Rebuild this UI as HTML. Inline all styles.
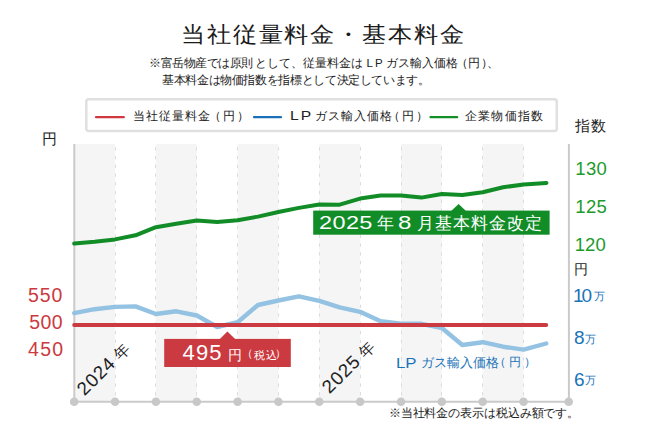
<!DOCTYPE html>
<html><head><meta charset="utf-8">
<style>
html,body{margin:0;padding:0;background:#fff;}
body{width:650px;height:436px;position:relative;overflow:hidden;font-family:"Liberation Sans",sans-serif;color:#222;}
.t{position:absolute;white-space:nowrap;line-height:1;}
svg{position:absolute;left:0;top:0;}
</style></head><body>
<svg width="650" height="436" viewBox="0 0 650 436">
  <!-- bands -->
  <g fill="#f5f5f5">
    <rect x="74.2" y="144" width="40.85" height="257.8"/>
    <rect x="155.9" y="144" width="40.85" height="257.8"/>
    <rect x="237.6" y="144" width="40.85" height="257.8"/>
    <rect x="319.3" y="144" width="40.85" height="257.8"/>
    <rect x="401" y="144" width="40.85" height="257.8"/>
    <rect x="482.7" y="144" width="40.85" height="257.8"/>
  </g>
  <g stroke="#dcdcdc" stroke-width="1" stroke-dasharray="3.3 5.45" stroke-dashoffset="-3.2">
    <line x1="115.5" y1="144" x2="115.5" y2="401"/>
    <line x1="155.5" y1="144" x2="155.5" y2="401"/>
    <line x1="196.5" y1="144" x2="196.5" y2="401"/>
    <line x1="237.5" y1="144" x2="237.5" y2="401"/>
    <line x1="278.5" y1="144" x2="278.5" y2="401"/>
    <line x1="319.5" y1="144" x2="319.5" y2="401"/>
    <line x1="360.5" y1="144" x2="360.5" y2="401"/>
    <line x1="401.5" y1="144" x2="401.5" y2="401"/>
    <line x1="441.5" y1="144" x2="441.5" y2="401"/>
    <line x1="482.5" y1="144" x2="482.5" y2="401"/>
    <line x1="523.5" y1="144" x2="523.5" y2="401"/>
  </g>
  <!-- axes -->
  <g stroke="#cacaca" stroke-width="2" fill="none">
    <line x1="74.3" y1="144" x2="74.3" y2="401.8"/>
    <line x1="568.9" y1="144" x2="568.9" y2="401.8"/>
    <line x1="74.2" y1="401.8" x2="568.7" y2="401.8"/>
  </g>
  <g fill="#c8c8c8">
    <circle cx="74.2" cy="401.8" r="4.3"/>
    <circle cx="115.05" cy="401.8" r="4.3"/>
    <circle cx="155.9" cy="401.8" r="4.3"/>
    <circle cx="196.75" cy="401.8" r="4.3"/>
    <circle cx="237.6" cy="401.8" r="4.3"/>
    <circle cx="278.45" cy="401.8" r="4.3"/>
    <circle cx="319.3" cy="401.8" r="4.3"/>
    <circle cx="360.15" cy="401.8" r="4.3"/>
    <circle cx="401" cy="401.8" r="4.3"/>
    <circle cx="441.85" cy="401.8" r="4.3"/>
    <circle cx="482.7" cy="401.8" r="4.3"/>
    <circle cx="523.55" cy="401.8" r="4.3"/>
    <circle cx="568.7" cy="401.8" r="4.3"/>
  </g>
  <!-- legend box -->
  <rect x="86.3" y="99.3" width="470.5" height="31.6" rx="2.5" fill="#fff" stroke="#e0e0e0" stroke-width="2.5"/>
  <g stroke-width="2.2" stroke-linecap="round">
    <line x1="96" y1="117.2" x2="123.8" y2="117.2" stroke="#d0383f"/>
    <line x1="254" y1="117.2" x2="281" y2="117.2" stroke="#1a70b8"/>
    <line x1="430.5" y1="117.2" x2="457.2" y2="117.2" stroke="#139028"/>
  </g>
  <!-- lines -->
  <polyline fill="none" stroke="#94c2e2" stroke-width="4.4" stroke-linejoin="round" stroke-linecap="round"
    points="74.2,313.2 94.6,309.2 115.1,306.9 135.5,306.4 155.9,314 176.3,311.3 196.8,315.5 217.2,327 237.6,322.2 258.0,305 278.4,300.5 298.9,296.4 319.3,300.9 339.7,307.4 360.1,311.8 380.6,321.3 401.0,323.8 421.4,323.8 441.9,328 462.3,345 482.7,342.2 503.1,346.7 523.6,349.6 546.2,343.5"/>
  <line x1="74.2" y1="324.9" x2="546.2" y2="324.9" stroke="#cb3a40" stroke-width="4" stroke-linecap="round"/>
  <polyline fill="none" stroke="#128c26" stroke-width="4" stroke-linejoin="round" stroke-linecap="round"
    points="74.2,243.5 94.6,241.8 115.1,239.4 135.5,235.3 155.9,227.2 176.3,223.7 196.8,220.6 217.2,221.9 237.6,220.3 258.0,216.6 278.4,212 298.9,207.9 319.3,204.5 339.7,204.7 360.1,198.6 380.6,195.6 401.0,195.6 421.4,197.6 441.9,194 462.3,195.1 482.7,192.2 503.1,187.3 523.6,184.4 546.5,183"/>
  <!-- green label -->
  <rect x="313.2" y="210.6" width="236.4" height="24.1" fill="#118c26"/>
  <polygon points="450.9,211.2 458.6,203.9 466.3,211.2" fill="#118c26"/>
  <!-- red label -->
  <rect x="164.2" y="338.9" width="126.6" height="28.1" fill="#cb3a40"/>
  <polygon points="219.6,339.3 227.4,331.4 235.4,339.3" fill="#cb3a40"/>
</svg>
<!--TEXTS-->
<div class="t" style="left:180.70px;top:24.90px;font-size:21.5px;letter-spacing:1.500px;color:#1a1a1a;transform:scaleX(1.1);transform-origin:0 0">当社従量料金・基本料金</div>
<div class="t" style="left:149.20px;top:58.30px;font-size:11.5px;letter-spacing:-0.499px;color:#222;">※富岳物産では原則</div>
<div class="t" style="left:254.50px;top:58.30px;font-size:11.5px;letter-spacing:0.000px;color:#222;">として、従量料金は</div>
<div class="t" style="left:366.60px;top:58.28px;font-size:11.5px;letter-spacing:2.000px;color:#222;">LP</div>
<div class="t" style="left:385.80px;top:58.30px;font-size:11.5px;letter-spacing:-0.044px;color:#222;">ガス輸入価格</div>
<div class="t" style="left:455.60px;top:58.30px;font-size:11.5px;letter-spacing:0.800px;color:#222;">（円）</div>
<div class="t" style="left:487.30px;top:58.30px;font-size:11.5px;letter-spacing:0.000px;color:#222;">、</div>
<div class="t" style="left:162.00px;top:75.29px;font-size:11.5px;letter-spacing:-0.364px;color:#222;">基本料金は物価指数を指標として決定しています。</div>
<div class="t" style="left:132.70px;top:110.90px;font-size:11.8px;letter-spacing:1.060px;color:#222;">当社従量料金</div>
<div class="t" style="left:209.00px;top:110.90px;font-size:11.8px;letter-spacing:2.000px;color:#222;">（円）</div>
<div class="t" style="left:289.80px;top:108.98px;font-size:13px;letter-spacing:1.636px;color:#222;transform:scaleX(1.2);transform-origin:0 0">LP</div>
<div class="t" style="left:314.50px;top:110.90px;font-size:11.8px;letter-spacing:1.110px;color:#222;">ガス輸入価格</div>
<div class="t" style="left:388.00px;top:110.90px;font-size:11.8px;letter-spacing:2.200px;color:#222;">（円）</div>
<div class="t" style="left:464.80px;top:110.90px;font-size:11.8px;letter-spacing:1.240px;color:#222;">企業物価指数</div>
<div class="t" style="left:42.10px;top:132.20px;font-size:14.5px;letter-spacing:0.000px;color:#222;">円</div>
<div class="t" style="left:575.10px;top:118.43px;font-size:15px;letter-spacing:0.800px;color:#222;">指数</div>
<div class="t" style="left:575.30px;top:160.45px;font-size:18.5px;letter-spacing:0.300px;color:#1b9a2a;">130</div>
<div class="t" style="left:575.30px;top:198.00px;font-size:18.5px;letter-spacing:0.300px;color:#1b9a2a;">125</div>
<div class="t" style="left:574.70px;top:236.12px;font-size:18.5px;letter-spacing:0.100px;color:#1b9a2a;">120</div>
<div class="t" style="left:574.30px;top:261.68px;font-size:14px;letter-spacing:0.000px;color:#222;">円</div>
<div class="t" style="left:573.10px;top:286.03px;font-size:19px;letter-spacing:-2.200px;color:#1a73b8;">10</div>
<div class="t" style="left:593.60px;top:290.73px;font-size:11px;letter-spacing:0.000px;color:#1a73b8;">万</div>
<div class="t" style="left:573.90px;top:328.39px;font-size:19px;letter-spacing:0.000px;color:#1a73b8;">8</div>
<div class="t" style="left:585.30px;top:333.81px;font-size:11px;letter-spacing:0.000px;color:#1a73b8;">万</div>
<div class="t" style="left:573.90px;top:369.97px;font-size:19px;letter-spacing:0.000px;color:#1a73b8;">6</div>
<div class="t" style="left:585.30px;top:374.51px;font-size:11px;letter-spacing:0.000px;color:#1a73b8;">万</div>
<div class="t" style="left:28.00px;top:285.55px;font-size:19.5px;letter-spacing:0.900px;color:#cb3a40;">550</div>
<div class="t" style="left:29.20px;top:313.39px;font-size:19.5px;letter-spacing:0.400px;color:#cb3a40;">500</div>
<div class="t" style="left:28.00px;top:339.53px;font-size:19.5px;letter-spacing:1.300px;color:#cb3a40;">450</div>
<div class="t" style="left:318.60px;top:214.03px;font-size:18.5px;letter-spacing:0.300px;color:#fff;transform:scaleX(1.27);transform-origin:0 0">2025</div>
<div class="t" style="left:377.00px;top:214.69px;font-size:17px;letter-spacing:0.000px;color:#fff;">年</div>
<div class="t" style="left:398.00px;top:214.03px;font-size:18.5px;letter-spacing:0.000px;color:#fff;transform:scaleX(1.3);transform-origin:0 0">8</div>
<div class="t" style="left:417.00px;top:214.85px;font-size:17px;letter-spacing:0.933px;color:#fff;">月基本料金改定</div>
<div class="t" style="left:182.60px;top:342.33px;font-size:22px;letter-spacing:1.100px;color:#fff;">495</div>
<div class="t" style="left:228.00px;top:348.67px;font-size:13.5px;letter-spacing:0.000px;color:#fff;">円</div>
<div class="t" style="left:253.90px;top:349.65px;font-size:11px;letter-spacing:0.933px;color:#fff;">税込</div>
<div class="t" style="left:242.10px;top:348.15px;font-size:11px;letter-spacing:0.000px;color:#fff;">（</div>
<div class="t" style="left:275.40px;top:348.15px;font-size:11px;letter-spacing:0.000px;color:#fff;">）</div>
<div class="t" style="left:396.40px;top:355.83px;font-size:14px;letter-spacing:-0.127px;color:#1a73b8;transform:scaleX(1.2);transform-origin:0 0">LP</div>
<div class="t" style="left:421.10px;top:355.51px;font-size:13px;letter-spacing:0.005px;color:#1a73b8;">ガス輸入価格</div>
<div class="t" style="left:494.10px;top:356.00px;font-size:12px;letter-spacing:2.800px;color:#1a73b8;">（円）</div>
<div class="t" style="left:388.70px;top:408.26px;font-size:11.5px;letter-spacing:-0.093px;color:#222;">※当社料金の表示は税込み額です。</div>
<!--ROT-->
<div class="t" style="left:73.6px;top:386.3px;letter-spacing:1.0px;font-size:18.7px;transform:rotate(-45deg);transform-origin:0 0">2024<span style="font-size:15.5px;margin-left:5px;letter-spacing:0">年</span></div>
<div class="t" style="left:318.8px;top:384.3px;letter-spacing:1.0px;font-size:18.7px;transform:rotate(-45deg);transform-origin:0 0">2025<span style="font-size:15.5px;margin-left:5px;letter-spacing:0">年</span></div>
</body></html>
